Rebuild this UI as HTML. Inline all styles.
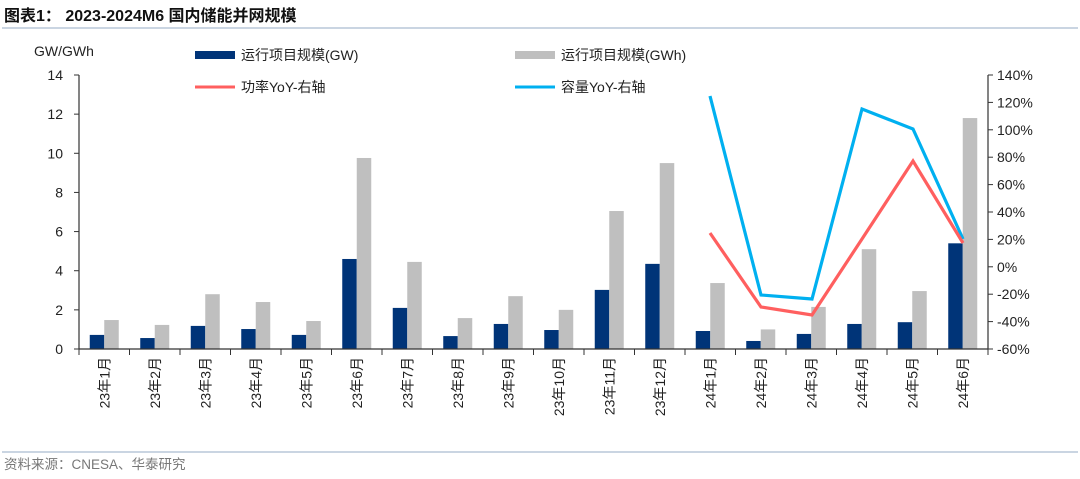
<!DOCTYPE html>
<html><head><meta charset="utf-8"><style>
body{margin:0;background:#fff;}
svg{display:block;font-family:"Liberation Sans","Noto Sans CJK SC",sans-serif;}
</style></head><body>
<svg width="1080" height="479" viewBox="0 0 1080 479" xmlns="http://www.w3.org/2000/svg">
<text x="4" y="21" font-size="16" font-weight="bold" fill="#111">图表1：  2023-2024M6 国内储能并网规模</text>
<line x1="2" y1="28" x2="1078" y2="28" stroke="#b8c7d9" stroke-width="1.5"/>
<line x1="2" y1="452" x2="1078" y2="452" stroke="#b8c7d9" stroke-width="1.5"/>
<text x="4" y="469" font-size="13.5" fill="#777">资料来源：CNESA、华泰研究</text>

<text x="34" y="56" font-size="14" fill="#222">GW/GWh</text>
<rect x="195" y="51" width="40" height="8" fill="#003478"/>
<text x="241" y="60" font-size="14" fill="#222">运行项目规模(GW)</text>
<rect x="515" y="51" width="40" height="8" fill="#bfbfbf"/>
<text x="561" y="60" font-size="14" fill="#222">运行项目规模(GWh)</text>
<line x1="195" y1="87" x2="235" y2="87" stroke="#ff5f5f" stroke-width="3"/>
<text x="241" y="92" font-size="14" fill="#222">功率YoY-右轴</text>
<line x1="515" y1="87" x2="555" y2="87" stroke="#00b0f0" stroke-width="3"/>
<text x="561" y="92" font-size="14" fill="#222">容量YoY-右轴</text>

<g id="bars"></g>
<g stroke="#333" stroke-width="1.2" fill="none">
<line x1="79" y1="75" x2="79" y2="349"/>
<line x1="988" y1="75" x2="988" y2="349"/>
<line x1="79" y1="349" x2="988" y2="349"/>
</g>
<g id="ticks"></g>
<polyline points="710,96 761,295 812,299 862,109 913,129 963,239" fill="none" stroke="#00b0f0" stroke-width="3.2" stroke-linejoin="miter"/>
<polyline points="710,233 761,307 812,315 862,239 913,161 963,243" fill="none" stroke="#ff5f5f" stroke-width="3.2"/>
<script>
var ns="http://www.w3.org/2000/svg";
var gw=[0.72,0.56,1.18,1.02,0.72,4.6,2.1,0.66,1.28,0.97,3.02,4.35,0.92,0.41,0.77,1.28,1.37,5.4];
var gwh=[1.48,1.23,2.8,2.4,1.43,9.76,4.45,1.58,2.7,2.0,7.05,9.5,3.37,1.0,2.15,5.1,2.96,11.8];
var b=document.getElementById('bars'),t=document.getElementById('ticks');
function el(p,n,a,txt){var e=document.createElementNS(ns,n);for(var k in a)e.setAttribute(k,a[k]);if(txt)e.textContent=txt;p.appendChild(e);return e;}
var s=274/14;
for(var i=0;i<18;i++){var c=79+50.5*(i+0.5);
el(b,'rect',{x:c-14.5,y:349-gw[i]*s,width:14.5,height:gw[i]*s,fill:'#003478'});
el(b,'rect',{x:c,y:349-gwh[i]*s,width:14.5,height:gwh[i]*s,fill:'#bfbfbf'});
var lab=(i<12?'23年'+(i+1):'24年'+(i-11))+'月';
el(t,'text',{x:0,y:0,'font-size':14,fill:'#222','text-anchor':'end',transform:'translate('+(c+5)+',357) rotate(-90)'},lab);
}
for(var i=0;i<=18;i++){var x=79+50.5*i;el(t,'line',{x1:x,y1:349,x2:x,y2:355,stroke:'#333'});}
for(var v=0;v<=14;v+=2){var y=349-v*s;el(t,'line',{x1:74,y1:y,x2:79,y2:y,stroke:'#333'});
el(t,'text',{x:63,y:y+5,'font-size':14,fill:'#222','text-anchor':'end'},String(v));}
for(var k=0;k<=10;k++){var y=349-k*27.4;el(t,'line',{x1:988,y1:y,x2:993,y2:y,stroke:'#333'});
el(t,'text',{x:997,y:y+5,'font-size':14,fill:'#222'},(k*20-60)+'%');}
</script>
</svg>
</body></html>
